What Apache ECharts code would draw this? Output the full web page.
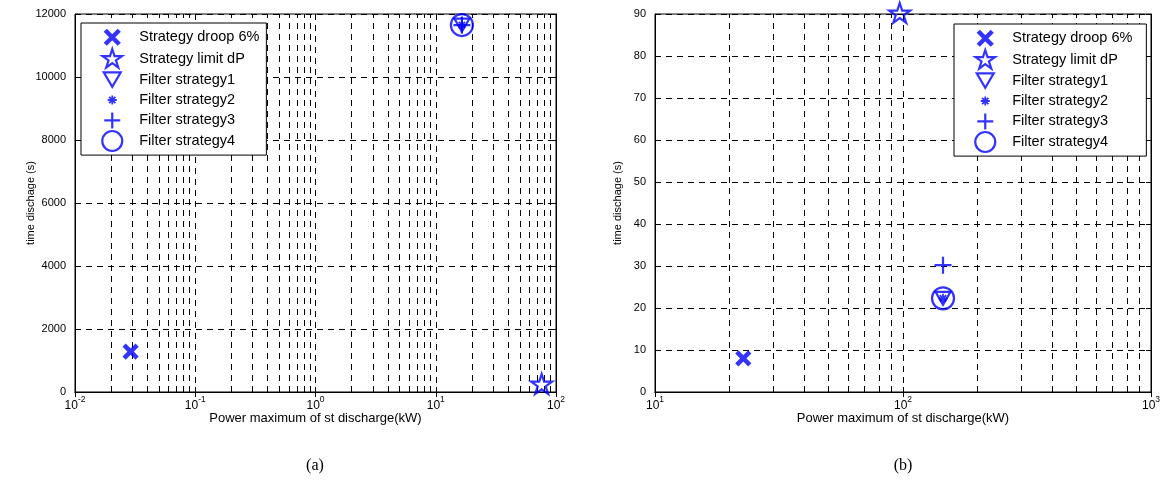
<!DOCTYPE html>
<html><head><meta charset="utf-8">
<script src="https://cdn.jsdelivr.net/npm/echarts@6/dist/echarts.min.js"></script>
<style>html,body{margin:0;padding:0;background:#fff}#c{width:1168px;height:481px}</style>
</head><body><div id="c"></div>
<script>
// ---------------- data ----------------
const seriesNames = ['Strategy droop 6%', 'Strategy limit dP', 'Filter strategy1', 'Filter strategy2', 'Filter strategy3', 'Filter strategy4'];
// chart (a)
const droopA   = [[0.029, 1280]];
const limitDPA = [[76, 220]];
const filter1A = [[16.5, 11650]];
const filter2A = [[16.5, 11650]];
const filter3A = [[16.5, 11650]];
const filter4A = [[16.5, 11650]];
// chart (b)
const droopB   = [[22.7, 8]];
const limitDPB = [[97, 90]];
const filter1B = [[145, 22.3]];
const filter2B = [[145, 22.3]];
const filter3B = [[145, 30.2]];
const filter4B = [[145, 22.3]];
// axes
const xRangeA = [0.01, 100];
const yTicksA = [0, 2000, 4000, 6000, 8000, 10000, 12000];
const xRangeB = [10, 1000];
const yTicksB = [0, 10, 20, 30, 40, 50, 60, 70, 80, 90];
const yNameA = 'time dischage (s)';
const yNameB = 'time dischage (s)';
const xNameA = 'Power maximum of st discharge(kW)';
const xNameB = 'Power maximum of st discharge(kW)';
const captions = ['(a)', '(b)'];

// ---------------- styles ----------------
const FONT = '"Liberation Sans", Arial, sans-serif';
const BLUE = '#0000ff';
const GRID_LINE = {type: [6, 5], color: '#000', width: 1};

// marker shapes in unit coords centred on 0
function starPts() {
  const p = [];
  for (let k = 0; k < 10; k++) {
    const a = (-90 + k * 36) * Math.PI / 180;
    const r = k % 2 === 0 ? 0.5 : 0.19;
    p.push([r * Math.cos(a), r * Math.sin(a)]);
  }
  return p;
}
const SHAPES = {
  x: {lines: [[[-.5, -.5], [.5, .5]], [[.5, -.5], [-.5, .5]]]},
  star: {poly: starPts()},
  tri: {poly: [[-.5, -.43], [.5, -.43], [0, .43]]},
  ast: {lines: [[[0, -.5], [0, .5]], [[-.5, 0], [.5, 0]], [[-.35, -.35], [.35, .35]], [[.35, -.35], [-.35, .35]]]},
  plus: {lines: [[[0, -.5], [0, .5]], [[-.5, 0], [.5, 0]]]},
  circ: {circle: true}
};
function shapePath(kind, s, H) {
  const c = H / 2;
  const P = (x, y) => (c + x * s).toFixed(2) + ',' + (c + y * s).toFixed(2);
  let d = 'M0,0 M' + H + ',' + H + ' ';
  const sh = SHAPES[kind];
  if (sh.lines) sh.lines.forEach(l => { d += 'M' + P(l[0][0], l[0][1]) + ' L' + P(l[1][0], l[1][1]) + ' '; });
  if (sh.poly) d += 'M' + sh.poly.map(q => P(q[0], q[1])).join(' L') + ' Z';
  if (sh.circle) {
    const r = s / 2;
    d += 'M' + (c - r).toFixed(2) + ',' + c + ' A' + r + ',' + r + ' 0 1,1 ' + (c + r).toFixed(2) + ',' + c +
         ' A' + r + ',' + r + ' 0 1,1 ' + (c - r).toFixed(2) + ',' + c + ' Z';
  }
  return 'path://' + d;
}
// per series: shape, chart size, stroke, legend size
const MARK = [
  {kind: 'x', size: 13, bw: 4.5, leg: 14},
  {kind: 'star', size: 22, bw: 2.2, leg: 21},
  {kind: 'tri', size: 15, bw: 2.2, leg: 17},
  {kind: 'ast', size: 9, bw: 1.8, leg: 9},
  {kind: 'plus', size: 17, bw: 2.2, leg: 16},
  {kind: 'circ', size: 22, bw: 2.2, leg: 20}
];

function minorValues(range) {
  const out = [];
  const k0 = Math.round(Math.log10(range[0])), k1 = Math.round(Math.log10(range[1]));
  for (let k = k0; k < k1; k++) for (let m = 2; m <= 9; m++) out.push(Number((m * Math.pow(10, k)).toPrecision(6)));
  return out;
}
function expLabel(v) {
  const e = Math.round(Math.log10(v));
  return '{b|10}{e|' + e + '}';
}
const richExp = {
  b: {fontSize: 12, fontFamily: FONT, color: '#000', lineHeight: 17, verticalAlign: 'bottom'},
  e: {fontSize: 8.5, fontFamily: FONT, color: '#000', lineHeight: 10, verticalAlign: 'top'}
};

const grids = [
  {left: 75, right: 612, top: 14, bottom: 89, outerBoundsMode: 'none', show: true, borderColor: '#000', borderWidth: 1},
  {left: 655, right: 17, top: 14, bottom: 89, outerBoundsMode: 'none', show: true, borderColor: '#000', borderWidth: 1}
];

function xAxes(gi, range, name) {
  const common = {type: 'log', logBase: 10, gridIndex: gi, min: range[0], max: range[1],
    axisLine: {show: true, lineStyle: {color: '#000', width: 1}}, axisTick: {show: true, inside: true, length: 5, lineStyle: {color: '#000'}},
    minorTick: {show: false}};
  return [
    Object.assign({}, common, {position: 'bottom', name: name, nameLocation: 'middle', nameGap: 20, nameMoveOverlap: false,
      nameTextStyle: {fontSize: 13, fontFamily: FONT, color: '#000'},
      axisLabel: {show: true, margin: 3, formatter: expLabel, rich: richExp},
      splitLine: {show: true, lineStyle: GRID_LINE}}),
    Object.assign({}, common, {position: 'top', axisLabel: {show: false}, splitLine: {show: false}})
  ];
}
function yAxes(gi, ticks, name, gap) {
  const common = {type: 'value', gridIndex: gi, min: ticks[0], max: ticks[ticks.length - 1], interval: ticks[1] - ticks[0],
    axisLine: {show: true, lineStyle: {color: '#000', width: 1}}, axisTick: {show: true, inside: true, length: 5, lineStyle: {color: '#000'}}};
  return [
    Object.assign({}, common, {position: 'left', name: name, nameLocation: 'middle', nameGap: gap, nameRotate: 90, nameMoveOverlap: false,
      nameTextStyle: {fontSize: 11, fontFamily: FONT, color: '#000'},
      axisLabel: {show: true, margin: 9, fontSize: 11, fontFamily: FONT, color: '#000', formatter: v => String(v)},
      splitLine: {show: true, lineStyle: GRID_LINE}}),
    Object.assign({}, common, {position: 'right', axisLabel: {show: false}, splitLine: {show: false}})
  ];
}

const dataA = [droopA, limitDPA, filter1A, filter2A, filter3A, filter4A];
const dataB = [droopB, limitDPB, filter1B, filter2B, filter3B, filter4B];

function seriesFor(gi, data, range) {
  return data.map((d, i) => {
    const m = MARK[i];
    const s = {
      type: 'scatter', name: seriesNames[i], xAxisIndex: gi * 2, yAxisIndex: gi * 2, data: d,
      symbol: shapePath(m.kind, m.size, m.size), symbolSize: m.size, symbolKeepAspect: true,
      itemStyle: {color: 'rgba(0,0,0,0)', borderColor: BLUE, borderWidth: m.bw},
      emphasis: {disabled: true}, silent: true, z: 3
    };
    if (i === 0) {
      s.markLine = {silent: true, symbol: 'none', label: {show: false}, animation: false,
        lineStyle: GRID_LINE, emphasis: {disabled: true}, z: 1,
        data: minorValues(range).map(v => ({xAxis: v}))};
    }
    return s;
  });
}

const legendData = seriesNames.map((n, i) => ({
  name: n, icon: shapePath(MARK[i].kind, MARK[i].leg, 20),
  itemStyle: {color: 'rgba(0,0,0,0)', borderColor: BLUE, borderWidth: MARK[i].bw}
}));
function legendAt(left, top, padRight) {
  return {orient: 'vertical', left: left, top: top, itemWidth: 44, itemHeight: 20, itemGap: -1.6,
    padding: [2, padRight, 3, 19], backgroundColor: '#fff', borderColor: '#000', borderWidth: 1, borderRadius: 0,
    selectedMode: false, symbolKeepAspect: true, z: 10,
    textStyle: {fontSize: 14.5, lineHeight: 18, fontFamily: FONT, color: '#000'}, data: legendData};
}

const chart = echarts.init(document.getElementById('c'), null, {renderer: 'canvas'});
chart.setOption({
  animation: false,
  backgroundColor: '#fff',
  grid: grids,
  xAxis: [].concat(xAxes(0, xRangeA, xNameA), xAxes(1, xRangeB, xNameB)),
  yAxis: [].concat(yAxes(0, yTicksA, yNameA, 39), yAxes(1, yTicksB, yNameB, 32)),
  legend: [legendAt(81, 23, 7), legendAt(954, 24, 14)],
  series: [].concat(seriesFor(0, dataA, xRangeA), seriesFor(1, dataB, xRangeB)),
  graphic: [
    {type: 'text', x: 315, y: 466, style: {text: captions[0], font: '16px "Liberation Serif", serif', fill: '#000', textAlign: 'center', textVerticalAlign: 'middle'}},
    {type: 'text', x: 903, y: 466, style: {text: captions[1], font: '16px "Liberation Serif", serif', fill: '#000', textAlign: 'center', textVerticalAlign: 'middle'}}
  ]
});
</script></body></html>
